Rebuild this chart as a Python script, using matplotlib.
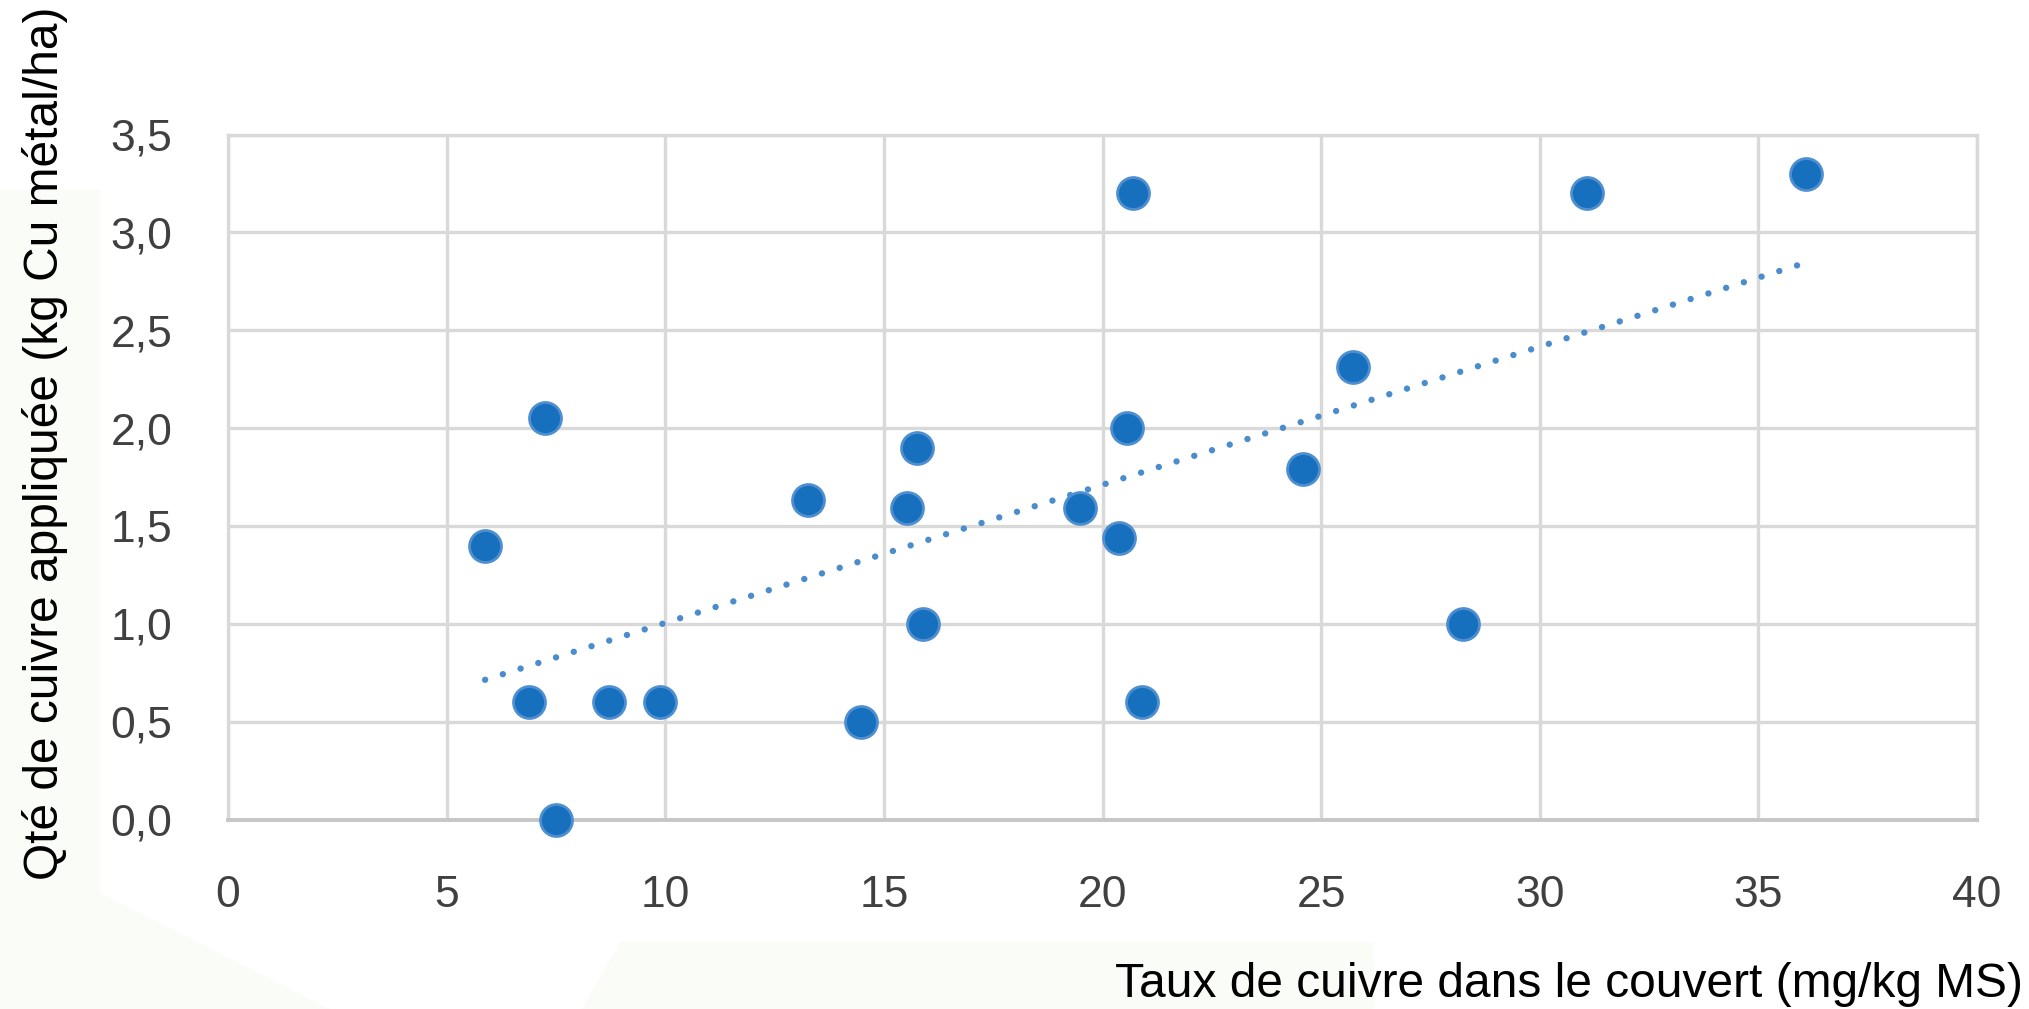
import numpy as np
import matplotlib
matplotlib.use("Agg")
import matplotlib.pyplot as plt
from matplotlib.ticker import FuncFormatter
from matplotlib.patches import Polygon

# Taux de cuivre dans le couvert (mg/kg MS)
taux_cu = [5.88, 7.24, 6.89, 7.51, 8.71, 9.87, 13.26, 14.47, 15.54, 15.76, 15.89,
           19.49, 20.37, 20.56, 20.70, 20.90, 24.59, 25.74, 28.24, 31.09, 36.09]
# Qté de cuivre appliquée (kg Cu métal/ha)
qte_cu = [1.40, 2.05, 0.60, 0.00, 0.60, 0.60, 1.63, 0.50, 1.59, 1.90, 1.00,
          1.59, 1.44, 2.00, 3.20, 0.60, 1.79, 2.31, 1.00, 3.20, 3.30]

x_ticks = [0, 5, 10, 15, 20, 25, 30, 35, 40]
y_ticks = [0.0, 0.5, 1.0, 1.5, 2.0, 2.5, 3.0, 3.5]

W, H = 2029, 1009
fig = plt.figure(figsize=(W / 100, H / 100), dpi=100)

# fond de diapo : aplats vert très pâle
def px_poly(pts):
    return Polygon([(x / W, 1 - y / H) for x, y in pts], closed=True,
                   transform=fig.transFigure, facecolor="#fafdf7",
                   edgecolor="none", zorder=0)

fig.patches.append(px_poly([(0, 190), (100, 190), (100, 893), (0, 893)]))
fig.patches.append(px_poly([(620, 942), (1374, 942), (1374, 1009), (582, 1009)]))
fig.patches.append(px_poly([(0, 893), (100, 893), (330, 1009), (0, 1009)]))

ax = fig.add_axes([228 / W, 1 - 819.5 / H, (1977 - 228) / W, (819.5 - 134.5) / H])
ax.set_facecolor("white")

# nuage de points
ax.plot(taux_cu, qte_cu, linestyle="none", marker="o", markersize=23,
        markerfacecolor="#1670be", markeredgecolor="#4f8fd0",
        markeredgewidth=2, zorder=4, clip_on=False)

# courbe de tendance linéaire
a, b = np.polyfit(taux_cu, qte_cu, 1)
xt = np.array([min(taux_cu), max(taux_cu)])
ax.plot(xt, a * xt + b, color="#4a8ccc", linewidth=4.6,
        linestyle=(0, (0.01, 2.9)), dash_capstyle="round", zorder=3)

ax.set_xlim(0, 40)
ax.set_ylim(0, 3.5)
ax.set_xticks(x_ticks)
ax.set_yticks(y_ticks)
ax.yaxis.set_major_formatter(FuncFormatter(lambda v, p: f"{v:.1f}".replace(".", ",")))

ax.grid(True, color="#d9d9d9", linewidth=2.4)
ax.set_axisbelow(True)
for s in ["top", "right", "left"]:
    ax.spines[s].set_color("#d9d9d9")
    ax.spines[s].set_linewidth(2.4)
ax.spines["bottom"].set_color("#c6c6c6")
ax.spines["bottom"].set_linewidth(2.8)

ax.tick_params(length=0, labelsize=32, labelcolor="#404040")
ax.tick_params(axis="x", pad=40)
ax.tick_params(axis="y", pad=40)
for lab in ax.get_xticklabels() + ax.get_yticklabels():
    lab.set_family(["Liberation Sans", "DejaVu Sans"])

fig.text(2023 / W, 2 / H, "Taux de cuivre dans le couvert (mg/kg MS)",
         ha="right", va="bottom", fontsize=34.5, family="Liberation Sans", color="black")
fig.text(45 / W, 1 - 443 / H, "Qté de cuivre appliquée (kg Cu métal/ha)",
         ha="center", va="center", rotation=90, fontsize=34.5,
         family="Liberation Sans", color="black")

fig.savefig("out.png", dpi=100, facecolor="white")
